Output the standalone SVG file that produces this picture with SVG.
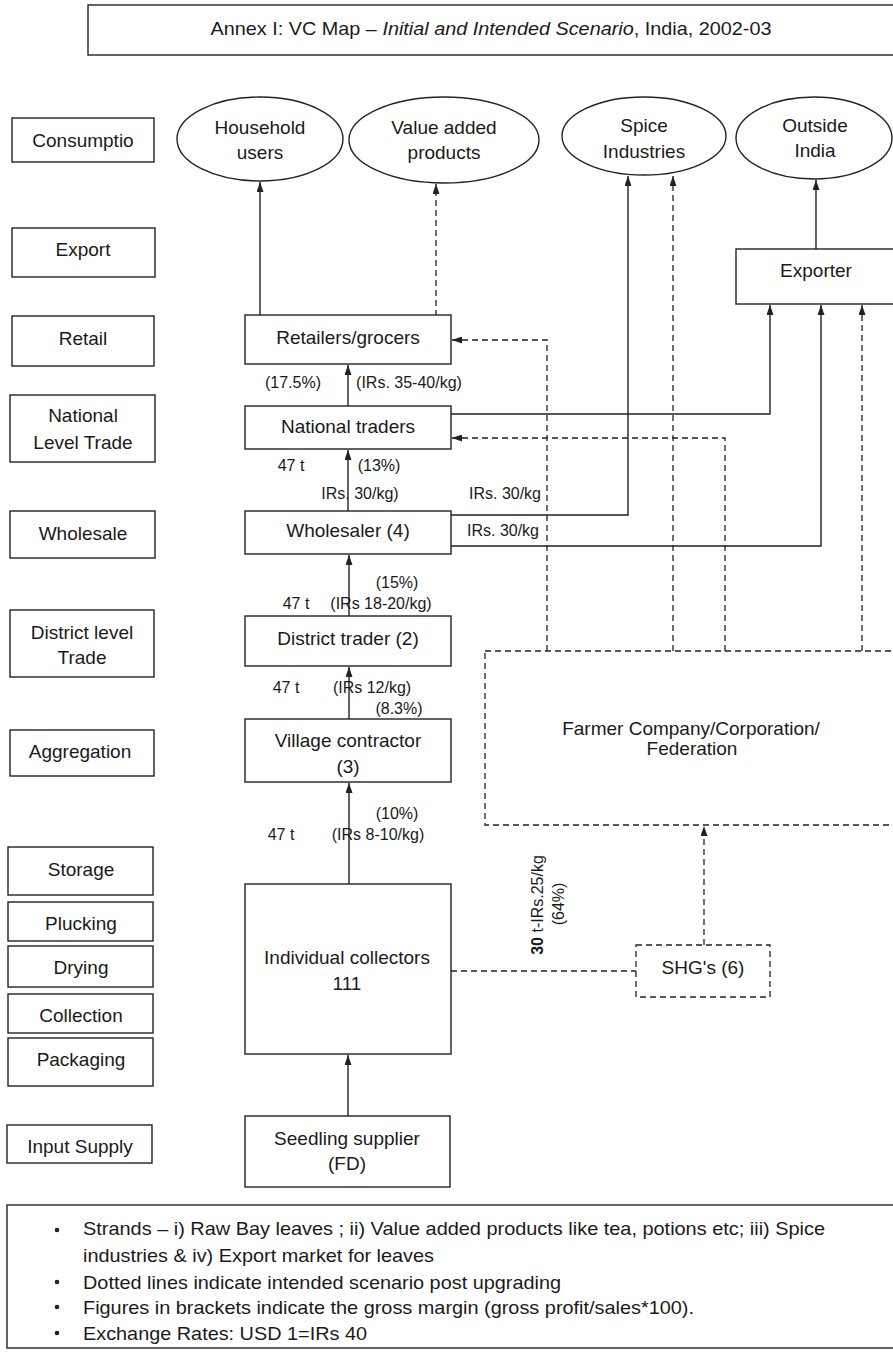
<svg xmlns="http://www.w3.org/2000/svg" width="893" height="1353" viewBox="0 0 893 1353">
<style>
text{font-family:"Liberation Sans",Arial,sans-serif;fill:#1a1a1a;dominant-baseline:central;text-anchor:middle}
.b{font-size:19px}
.s{font-size:16px}
.box{fill:#fff;stroke:#222;stroke-width:1.4}
.dbox{fill:#fff;stroke:#222;stroke-width:1.3;stroke-dasharray:6 4}
.ln{fill:none;stroke:#222;stroke-width:1.4}
.dl{fill:none;stroke:#222;stroke-width:1.3;stroke-dasharray:6 4}
.arr{marker-end:url(#ah)}
.lg{font-size:18.5px;text-anchor:start}
</style>
<defs>
<marker id="ah" viewBox="0 0 10 7" refX="10" refY="3.5" markerWidth="10" markerHeight="7" markerUnits="userSpaceOnUse" orient="auto">
<path d="M0,0 L10,3.5 L0,7 z" fill="#222"/>
</marker>
</defs>
<rect width="893" height="1353" fill="#fff"/>

<g id="title">
<rect class="box" x="88" y="5" width="820" height="50"/>
<text class="b" x="491" y="28" textLength="561" lengthAdjust="spacingAndGlyphs">Annex I: VC Map – <tspan font-style="italic">Initial and Intended Scenario</tspan>, India, 2002-03</text>
</g>

<g id="stages">
<g id="st-consumption"><rect class="box" x="12" y="118" width="142" height="44"/><text class="b" x="83" y="140">Consumptio</text></g>
<g id="st-export"><rect class="box" x="12" y="228" width="143" height="49"/><text class="b" x="83" y="249">Export</text></g>
<g id="st-retail"><rect class="box" x="12" y="316" width="142" height="50"/><text class="b" x="83" y="338">Retail</text></g>
<g id="st-national"><rect class="box" x="10" y="395" width="145" height="67"/><text class="b" x="83" y="415">National</text><text class="b" x="83" y="442">Level Trade</text></g>
<g id="st-wholesale"><rect class="box" x="10" y="511" width="145" height="47"/><text class="b" x="83" y="533">Wholesale</text></g>
<g id="st-district"><rect class="box" x="10" y="610" width="144" height="67"/><text class="b" x="82" y="632">District level</text><text class="b" x="82" y="657">Trade</text></g>
<g id="st-aggregation"><rect class="box" x="10" y="730" width="144" height="46"/><text class="b" x="80" y="751">Aggregation</text></g>
<g id="st-storage"><rect class="box" x="8" y="847" width="145" height="48"/><text class="b" x="81" y="869">Storage</text></g>
<g id="st-plucking"><rect class="box" x="8" y="902" width="145" height="39"/><text class="b" x="81" y="923">Plucking</text></g>
<g id="st-drying"><rect class="box" x="8" y="946" width="145" height="41"/><text class="b" x="81" y="967">Drying</text></g>
<g id="st-collection"><rect class="box" x="8" y="994" width="145" height="39"/><text class="b" x="81" y="1015">Collection</text></g>
<g id="st-packaging"><rect class="box" x="8" y="1038" width="145" height="48"/><text class="b" x="81" y="1059">Packaging</text></g>
<g id="st-input"><rect class="box" x="7" y="1125" width="145" height="38"/><text class="b" x="80" y="1146">Input Supply</text></g>
</g>

<g id="connectors">
<line class="ln arr" x1="260" y1="316" x2="260" y2="182"/>
<line class="dl arr" x1="436" y1="316" x2="436" y2="184"/>
<line class="ln arr" x1="348" y1="406" x2="348" y2="365"/>
<line class="ln arr" x1="348" y1="511" x2="348" y2="450"/>
<line class="ln arr" x1="349" y1="616" x2="349" y2="555"/>
<line class="ln arr" x1="349" y1="719" x2="349" y2="667"/>
<line class="ln arr" x1="349" y1="884" x2="349" y2="783"/>
<line class="ln arr" x1="348" y1="1116" x2="348" y2="1055"/>
<polyline class="ln arr" points="451,414 770,414 770,305"/>
<polyline class="ln arr" points="451,515 628,515 628,176"/>
<polyline class="ln arr" points="451,546 821,546 821,305"/>
<line class="ln arr" x1="816" y1="249" x2="816" y2="180"/>
<polyline class="dl arr" points="547,651 547,340 452,340"/>
<polyline class="dl arr" points="725,651 725,438 452,438"/>
<line class="dl arr" x1="673" y1="651" x2="673" y2="176"/>
<line class="dl arr" x1="862" y1="651" x2="862" y2="305"/>
<line class="dl arr" x1="704" y1="945" x2="704" y2="826"/>
<line class="dl" x1="451" y1="971" x2="636" y2="971"/>
</g>

<g id="labels">
<text class="s" x="293" y="382">(17.5%)</text>
<text class="s" x="409" y="382">(IRs. 35-40/kg)</text>
<text class="s" x="291" y="465">47 t</text>
<text class="s" x="379" y="465">(13%)</text>
<text class="s" x="360" y="493">IRs. 30/kg)</text>
<text class="s" x="505" y="493">IRs. 30/kg</text>
<text class="s" x="503" y="530">IRs. 30/kg</text>
<text class="s" x="397" y="582">(15%)</text>
<text class="s" x="296" y="603">47 t</text>
<text class="s" x="381" y="603">(IRs 18-20/kg)</text>
<text class="s" x="286" y="687">47 t</text>
<text class="s" x="372" y="687">(IRs 12/kg)</text>
<text class="s" x="399" y="708">(8.3%)</text>
<text class="s" x="397" y="813">(10%)</text>
<text class="s" x="281" y="834">47 t</text>
<text class="s" x="378" y="834">(IRs 8-10/kg)</text>
<text class="s" transform="translate(537,905) rotate(-90)" x="0" y="0"><tspan font-weight="bold">30</tspan> t-IRs.25/kg</text>
<text class="s" transform="translate(558,904) rotate(-90)" x="0" y="0">(64%)</text>
</g>

<g id="household"><ellipse class="box" cx="260" cy="139" rx="83" ry="42"/><text class="b" x="260" y="127">Household</text><text class="b" x="260" y="152">users</text></g>
<g id="valueadded"><ellipse class="box" cx="444" cy="140" rx="95" ry="43"/><text class="b" x="444" y="127">Value added</text><text class="b" x="444" y="152">products</text></g>
<g id="spice"><ellipse class="box" cx="644" cy="136" rx="82" ry="39"/><text class="b" x="644" y="125">Spice</text><text class="b" x="644" y="151">Industries</text></g>
<g id="outside"><ellipse class="box" cx="814" cy="138" rx="78" ry="41"/><text class="b" x="815" y="125">Outside</text><text class="b" x="815" y="150">India</text></g>

<g id="exporter"><rect class="box" x="736" y="249" width="170" height="55"/><text class="b" x="816" y="270">Exporter</text></g>
<g id="retailers"><rect class="box" x="245" y="315" width="206" height="49"/><text class="b" x="348" y="337">Retailers/grocers</text></g>
<g id="national"><rect class="box" x="245" y="406" width="206" height="43"/><text class="b" x="348" y="426">National traders</text></g>
<g id="wholesaler"><rect class="box" x="245" y="511" width="206" height="43"/><text class="b" x="348" y="530">Wholesaler (4)</text></g>
<g id="district"><rect class="box" x="245" y="616" width="206" height="50"/><text class="b" x="348" y="638">District trader (2)</text></g>
<g id="village"><rect class="box" x="245" y="719" width="206" height="63"/><text class="b" x="348" y="740">Village contractor</text><text class="b" x="348" y="766">(3)</text></g>
<g id="collectors"><rect class="box" x="245" y="884" width="206" height="170"/><text class="b" x="347" y="957">Individual collectors</text><text class="b" x="347" y="983">111</text></g>
<g id="seedling"><rect class="box" x="245" y="1116" width="205" height="71"/><text class="b" x="347" y="1138">Seedling supplier</text><text class="b" x="347" y="1163">(FD)</text></g>
<g id="farmer"><rect class="dbox" x="485" y="651" width="420" height="174"/><text class="b" x="691" y="728">Farmer Company/Corporation/</text><text class="b" x="692" y="748">Federation</text></g>
<g id="shg"><rect class="dbox" x="636" y="945" width="134" height="52"/><text class="b" x="703" y="967">SHG's (6)</text></g>

<g id="legend">
<rect class="box" x="7" y="1205" width="900" height="143"/>
<circle cx="57" cy="1230" r="2.3" fill="#222"/>
<circle cx="57" cy="1282" r="2.3" fill="#222"/>
<circle cx="57" cy="1307" r="2.3" fill="#222"/>
<circle cx="57" cy="1333" r="2.3" fill="#222"/>
<text class="lg" x="83" y="1228" textLength="742" lengthAdjust="spacingAndGlyphs">Strands – i) Raw Bay leaves ; ii) Value added products like tea, potions etc; iii) Spice</text>
<text class="lg" x="83" y="1255" textLength="351" lengthAdjust="spacingAndGlyphs">industries &amp; iv) Export market for leaves</text>
<text class="lg" x="83" y="1282" textLength="478" lengthAdjust="spacingAndGlyphs">Dotted lines indicate intended scenario post upgrading</text>
<text class="lg" x="83" y="1307" textLength="611" lengthAdjust="spacingAndGlyphs">Figures in brackets indicate the gross margin (gross profit/sales*100).</text>
<text class="lg" x="83" y="1333" textLength="284" lengthAdjust="spacingAndGlyphs">Exchange Rates: USD 1=IRs 40</text>
</g>
</svg>
